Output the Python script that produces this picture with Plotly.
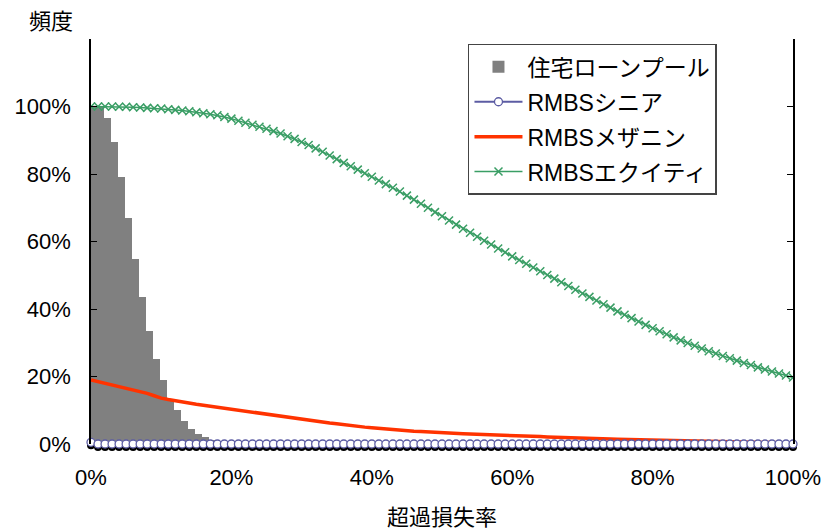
import plotly.graph_objects as go

# ---- data (values in %) ----
loss_pct = list(range(101))  # excess loss rate, 0..100 %

pool_bins = list(range(21))
pool_freq = [100.0, 100.0, 96.7, 89.6, 79.1, 67.1, 54.7, 43.5, 33.4, 25.1,
             18.9, 13.3, 10.1, 6.9, 4.4, 3.0, 2.0, 1.2, 0.8, 0.4, 0.2]

senior = [0.5, 0, 0, 0, 0, 0, 0, 0, 0, 0, 0,
          0, 0, 0, 0, 0, 0, 0, 0, 0, 0,
          0, 0, 0, 0, 0, 0, 0, 0, 0, 0,
          0, 0, 0, 0, 0, 0, 0, 0, 0, 0,
          0, 0, 0, 0, 0, 0, 0, 0, 0, 0,
          0, 0, 0, 0, 0, 0, 0, 0, 0, 0,
          0, 0, 0, 0, 0, 0, 0, 0, 0, 0,
          0, 0, 0, 0, 0, 0, 0, 0, 0, 0,
          0, 0, 0, 0, 0, 0, 0, 0, 0, 0,
          0, 0, 0, 0, 0, 0, 0, 0, 0, 0]

mezzanine = [19.0, 18.5, 18.0, 17.6, 17.1, 16.6, 16.1, 15.6, 15.0, 14.3, 13.6,
             13.2, 12.8, 12.4, 12.1, 11.8, 11.5, 11.2, 10.9, 10.5, 10.2,
             9.9, 9.6, 9.3, 9.0, 8.7, 8.4, 8.1, 7.8, 7.5, 7.2,
             7.0, 6.7, 6.5, 6.2, 6.0, 5.7, 5.5, 5.3, 5.0, 4.8,
             4.6, 4.45, 4.3, 4.1, 3.95, 3.8, 3.7, 3.55, 3.45, 3.35,
             3.25, 3.15, 3.05, 2.95, 2.9, 2.8, 2.75, 2.7, 2.6, 2.55,
             2.5, 2.4, 2.3, 2.2, 2.1, 2.0, 1.95, 1.85, 1.8, 1.7,
             1.65, 1.6, 1.5, 1.45, 1.4, 1.35, 1.3, 1.25, 1.2, 1.1,
             1.05, 1.0, 0.95, 0.9, 0.85, 0.8, 0.75, 0.7, 0.65, 0.6,
             0.55, 0.5, 0.48, 0.45, 0.42, 0.4, 0.37, 0.35, 0.32, 0.3]

equity = [100.0, 100.0, 100.0, 100.0, 99.9, 99.9, 99.8, 99.7, 99.6, 99.5, 99.4,
          99.2, 99.0, 98.8, 98.6, 98.3, 98.0, 97.7, 97.4, 96.9, 96.4,
          95.8, 95.2, 94.6, 94.0, 93.4, 92.7, 92.0, 91.2, 90.4, 89.5,
          88.6, 87.6, 86.6, 85.5, 84.4, 83.3, 82.3, 81.3, 80.2, 79.2,
          78.1, 77.0, 75.9, 74.8, 73.6, 72.4, 71.2, 70.0, 68.7, 67.5,
          66.2, 65.0, 63.8, 62.6, 61.4, 60.2, 59.1, 57.9, 56.8, 55.6,
          54.5, 53.4, 52.3, 51.2, 50.1, 49.0, 47.9, 46.8, 45.7, 44.6,
          43.6, 42.5, 41.4, 40.4, 39.3, 38.3, 37.3, 36.3, 35.3, 34.3,
          33.4, 32.5, 31.6, 30.7, 29.9, 29.1, 28.3, 27.5, 26.8, 26.1,
          25.4, 24.7, 24.0, 23.4, 22.7, 22.1, 21.5, 20.9, 20.3, 19.7]

y_ticks = [0, 20, 40, 60, 80, 100, 120]
y_tick_text = ["0%", "20%", "40%", "60%", "80%", "100%", ""]
x_ticks = [0, 20, 40, 60, 80, 100]
x_tick_text = ["0%", "20%", "40%", "60%", "80%", "100%"]

names = ["住宅ローンプール", "RMBSシニア", "RMBSメザニン", "RMBSエクイティ"]

FONT = "Liberation Sans, Arial, Noto Sans CJK JP, sans-serif"

# plot area: main axis occupies [SH, 1] of the plotting height; the shadow
# axis is the same height but SH lower (a 3px drop shadow for the senior markers)
PLOT_H = 530 - 39 - 83
SH = 3 / PLOT_H

fig = go.Figure()

# shadow layer (drawn first, lowest subplot)
fig.add_trace(go.Scatter(
    x=loss_pct, y=senior, mode="markers", xaxis="x", yaxis="y",
    marker=dict(symbol="circle", size=8, color="#000000", line=dict(width=0)),
    showlegend=False, hoverinfo="skip", cliponaxis=False,
))

fig.add_trace(go.Bar(
    x=pool_bins, y=pool_freq, name=names[0], width=1, offset=-0.2,
    marker=dict(color="#808080", line=dict(width=0)), legendgroup="a",
    xaxis="x", yaxis="y2", legendrank=1,
))

fig.add_trace(go.Scatter(
    x=loss_pct, y=equity, name=names[3], mode="lines+markers",
    line=dict(color="#3A9E65", width=1.5),
    marker=dict(symbol="x-thin", size=8, line=dict(color="#3A9E65", width=1.5)),
    legendgroup="d", xaxis="x", yaxis="y2", legendrank=4,
))

fig.add_trace(go.Scatter(
    x=loss_pct, y=mezzanine, name=names[2], mode="lines",
    line=dict(color="#FF3300", width=3.5), legendgroup="c",
    xaxis="x", yaxis="y2", legendrank=3,
))

fig.add_trace(go.Scatter(
    x=loss_pct, y=senior, name=names[1], mode="lines+markers",
    line=dict(color="#5C5CA3", width=1.8),
    marker=dict(symbol="circle", size=8, color="white",
                line=dict(color="#5C5CA3", width=1.3)),
    legendgroup="b", cliponaxis=False, xaxis="x", yaxis="y2", legendrank=2,
))

fig.update_layout(
    width=828, height=530,
    margin=dict(l=91, r=35, t=39, b=83),
    paper_bgcolor="white", plot_bgcolor="white",
    font=dict(family=FONT, size=22, color="black"),
    bargap=0,
    showlegend=True,
    legend=dict(
        x=0.537, y=0.988, xanchor="left", yanchor="top",
        bordercolor="#444444", borderwidth=1.5, bgcolor="white",
        font=dict(family=FONT, size=23), tracegroupgap=2,
        traceorder="grouped", itemwidth=48,
    ),
    xaxis=dict(
        range=[0, 100], tickvals=x_ticks, ticktext=x_tick_text,
        anchor="free", position=SH,
        ticks="inside", ticklen=5, tickcolor="black", tickwidth=1,
        showline=True, linecolor="black", linewidth=1.5, mirror=False,
        showgrid=False, zeroline=False, ticklabelstandoff=14,
        automargin=False,
        title=dict(text="超過損失率", standoff=19, font=dict(size=22)),
    ),
    yaxis=dict(
        range=[0, 120], domain=[0, 1 - SH], visible=False, anchor="x",
        automargin=False,
    ),
    yaxis2=dict(
        range=[0, 120], domain=[SH, 1], anchor="x",
        tickvals=y_ticks, ticktext=y_tick_text,
        ticks="inside", ticklen=6, tickcolor="black", tickwidth=1,
        showline=True, linecolor="black", linewidth=1.5, mirror="ticks",
        showgrid=False, zeroline=False, ticklabelstandoff=14,
        automargin=False,
    ),
    annotations=[dict(
        text="頻度", xref="paper", yref="paper", x=-0.057, y=1.042,
        xanchor="center", yanchor="middle", showarrow=False,
        font=dict(family=FONT, size=22),
    )],
)

fig.write_html("out.html")
